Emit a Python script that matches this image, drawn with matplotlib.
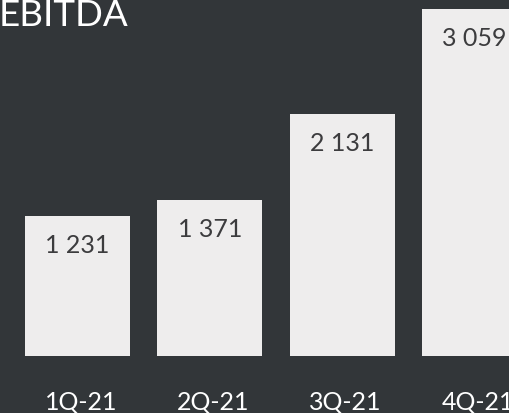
import matplotlib.pyplot as plt

quarters = ["1Q-21", "2Q-21", "3Q-21", "4Q-21"]
ebitda = [1231, 1371, 2131, 3059]
value_labels = ["1 231", "1 371", "2 131", "3 059"]

bg = "#323639"
bar_color = "#eeeded"
text_dark = "#3c3c3e"

plt.rcParams['font.family'] = ['Lato', 'DejaVu Sans']

fig = plt.figure(figsize=(5.10, 4.14), dpi=100, facecolor=bg)
ax = fig.add_axes([0, 0, 1, 1])
ax.set_facecolor(bg)

x = list(range(len(quarters)))
ax.bar(x, ebitda, width=0.7935, color=bar_color, edgecolor='none')

ax.set_xlim(-0.5857, 3.268)
ax.set_ylim(-505, 3146)
ax.axis('off')

for i, (v, lab) in enumerate(zip(ebitda, value_labels)):
    ax.annotate(lab, xy=(i, v), xytext=(0, -20.5), textcoords='offset points',
                ha='center', va='center', fontsize=18, color=text_dark)
    ax.annotate(quarters[i], xy=(i, 0), xytext=(2.5, -32.6), textcoords='offset points',
                ha='center', va='center', fontsize=18, color='white')

fig.text(-0.002, 1 - 15 / 414, "EBITDA", ha='left', va='center',
         fontsize=26.5, color='white')

fig.savefig("out.png", dpi=100, facecolor=bg)
